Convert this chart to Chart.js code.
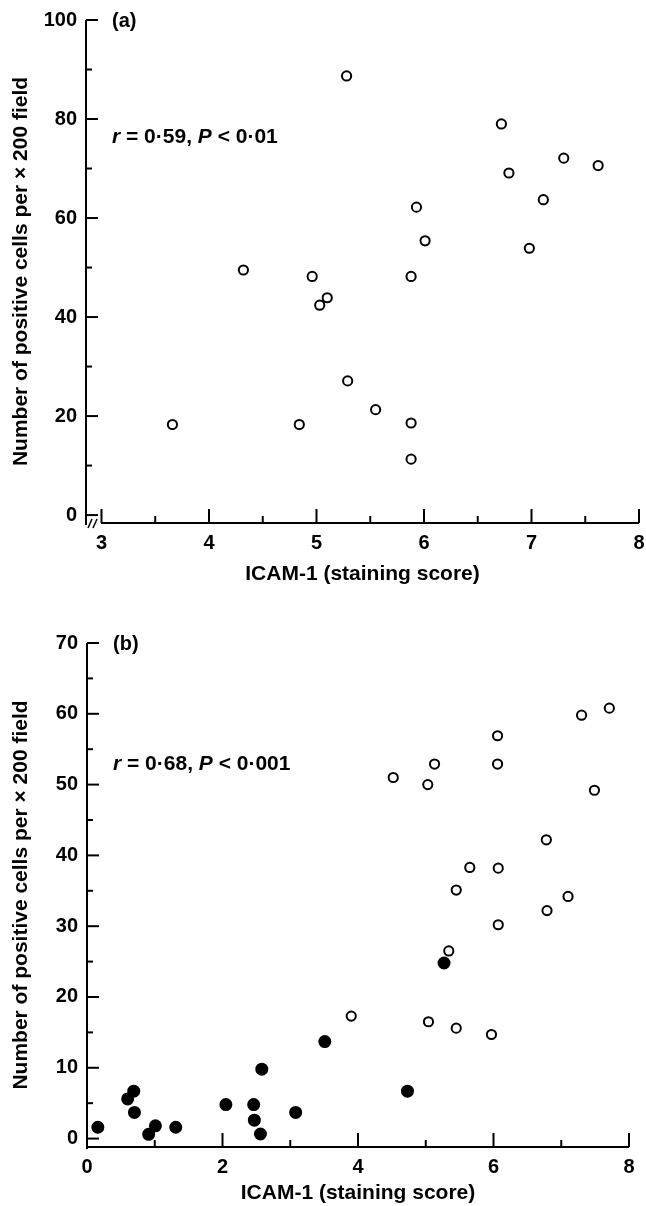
<!DOCTYPE html>
<html>
<head>
<meta charset="utf-8">
<script src="https://cdn.jsdelivr.net/npm/chart.js@4"></script>
<style>
  html, body { margin: 0; padding: 0; background: #fff; }
  #wrap { position: relative; width: 646px; height: 1206px; }
  .panel { position: absolute; left: 0; width: 646px; }
</style>
</head>
<body>
<div id="wrap">
  <div class="panel" style="top:0;height:595px"><canvas id="chartA"></canvas></div>
  <div class="panel" style="top:600px;height:606px"><canvas id="chartB"></canvas></div>
</div>
<script>
// panel (a): ICAM-1 score vs positive cells
var scoreA = [5.28, 6.72, 7.30, 7.62, 6.79, 7.11, 5.93, 6.01, 6.98, 4.32, 4.96, 5.88, 5.10, 5.03, 5.29, 5.55, 3.66, 4.84, 5.88, 5.88];
var cellsA = [88.7, 79.0, 72.1, 70.6, 69.1, 63.7, 62.2, 55.4, 53.9, 49.5, 48.2, 48.2, 43.9, 42.4, 27.1, 21.3, 18.3, 18.3, 18.6, 11.3];

// panel (b): open circles
var scoreOpenB = [7.71, 7.30, 6.06, 5.13, 6.06, 4.52, 5.03, 7.49, 6.78, 5.65, 6.07, 5.45, 7.10, 6.79, 6.07, 5.34, 3.90, 5.04, 5.45, 5.97];
var cellsOpenB = [60.8, 59.8, 56.9, 52.9, 52.9, 51.0, 50.0, 49.2, 42.2, 38.3, 38.2, 35.1, 34.2, 32.2, 30.2, 26.5, 17.3, 16.5, 15.6, 14.7];
// panel (b): filled circles
var scoreFilledB = [5.27, 3.51, 2.58, 4.73, 0.69, 0.60, 0.70, 2.05, 2.46, 3.08, 2.47, 0.16, 1.01, 1.31, 0.91, 2.56];
var cellsFilledB = [24.8, 13.7, 9.8, 6.7, 6.7, 5.6, 3.7, 4.8, 4.8, 3.7, 2.6, 1.6, 1.8, 1.6, 0.6, 0.65];

// tick labels
var xLabelsA = [3, 4, 5, 6, 7, 8];
var yLabelsA = [0, 20, 40, 60, 80, 100];
var xLabelsB = [0, 2, 4, 6, 8];
var yLabelsB = [0, 10, 20, 30, 40, 50, 60, 70];

var FONT = '"Liberation Sans", Arial, sans-serif';
var xTitle = 'ICAM-1 (staining score)';
var yTitle = 'Number of positive cells per \u00d7 200 field';

function toPoints(xs, ys) {
    return xs.map(function (x, i) { return {x: x, y: ys[i]}; });
}

// tick marks and axis lines, drawn from the scales
var axesDraw = {
    id: 'axesDraw',
    beforeDatasetsDraw: function (chart, args, opts) {
        var ctx = chart.ctx;
        var xs = chart.scales.x, ys = chart.scales.y;
        var area = chart.chartArea;
        ctx.save();
        ctx.strokeStyle = '#000';
        ctx.lineWidth = 2;
        ctx.lineCap = 'butt';
        // y axis
        ctx.beginPath();
        ctx.moveTo(area.left, area.top);
        ctx.lineTo(area.left, area.bottom + 2);
        ctx.stroke();
        // x axis
        ctx.beginPath();
        ctx.moveTo(area.left + (opts.xBreak ? 15 : 0), area.bottom);
        ctx.lineTo(area.right, area.bottom);
        ctx.stroke();
        if (opts.xBreak) {
            ctx.lineWidth = 1.5;
            [4, 9].forEach(function (dx) {
                ctx.beginPath();
                ctx.moveTo(area.left + dx - 2, area.bottom + 5);
                ctx.lineTo(area.left + dx + 2, area.bottom - 4);
                ctx.stroke();
            });
            ctx.lineWidth = 2;
        }
        xs.ticks.forEach(function (t) {
            var px = xs.getPixelForValue(t.value);
            var len = opts.xLabels.indexOf(t.value) >= 0 ? 14 : 7;
            ctx.beginPath();
            ctx.moveTo(px, area.bottom);
            ctx.lineTo(px, area.bottom - len);
            ctx.stroke();
        });
        ys.ticks.forEach(function (t) {
            var py = ys.getPixelForValue(t.value);
            var len = opts.yLabels.indexOf(t.value) >= 0 ? 12 : 6;
            ctx.beginPath();
            ctx.moveTo(area.left, py);
            ctx.lineTo(area.left + len, py);
            ctx.stroke();
        });
        ctx.restore();
    }
};

// panel letter and correlation text
var panelText = {
    id: 'panelText',
    afterDraw: function (chart, args, opts) {
        var ctx = chart.ctx;
        var area = chart.chartArea;
        var left = area.left + 26;
        ctx.save();
        ctx.fillStyle = '#000';
        ctx.textBaseline = 'middle';
        ctx.font = 'bold 20px ' + FONT;
        ctx.fillText(opts.letter, left, area.top + 1);
        var y = chart.scales.y.getPixelForValue(opts.statY);
        var x = left;
        opts.parts.forEach(function (p) {
            ctx.font = (p[1] ? 'italic ' : '') + 'bold 21px ' + FONT;
            ctx.fillText(p[0], x, y);
            x += ctx.measureText(p[0]).width;
        });
        ctx.restore();
    }
};

function makeScales(cfg) {
    var tickFont = {family: FONT, size: 20, weight: 'bold'};
    var titleFont = {family: FONT, size: 21, weight: 'bold'};
    return {
        x: {
            type: 'linear', min: cfg.xMin, max: cfg.xMax,
            grid: {display: false, drawTicks: false},
            border: {display: false},
            ticks: {
                stepSize: cfg.xStep, includeBounds: false, autoSkip: false, maxRotation: 0,
                padding: 8, color: '#000', font: tickFont,
                callback: function (v) { return cfg.xLabels.indexOf(v) >= 0 ? String(v) : ''; }
            },
            title: {display: true, text: xTitle, color: '#000', font: titleFont, padding: {top: 0, bottom: cfg.xTitlePad}},
            afterFit: function (s) {
                s.height = cfg.xHeight;
                s.paddingLeft = 0;
                s.paddingRight = 0;
            }
        },
        y: {
            type: 'linear', min: cfg.yMin, max: cfg.yMax,
            grid: {display: false, drawTicks: false},
            border: {display: false},
            ticks: {
                stepSize: cfg.yStep, includeBounds: false, autoSkip: false,
                padding: 9, color: '#000', font: tickFont,
                callback: function (v) { return cfg.yLabels.indexOf(v) >= 0 ? String(v) : ''; }
            },
            title: {display: true, text: yTitle, color: '#000', font: titleFont, padding: {top: 9, bottom: 0}},
            afterFit: function (s) {
                s.width = cfg.yWidth;
                s.paddingTop = 0;
                s.paddingBottom = 0;
            }
        }
    };
}

var pointBase = {showLine: false, borderColor: '#000', pointBorderWidth: 2, pointHoverRadius: 5};

new Chart(document.getElementById('chartA'), {
    type: 'scatter',
    data: {
        datasets: [Object.assign({
            label: 'a', data: toPoints(scoreA, cellsA),
            pointRadius: 4.6, backgroundColor: '#fff', pointBackgroundColor: '#fff'
        }, pointBase)]
    },
    options: {
        responsive: true, maintainAspectRatio: false, animation: false, devicePixelRatio: 1,
        layout: {padding: {top: 20, right: 6, left: 0, bottom: 0}},
        plugins: {
            legend: {display: false}, tooltip: {enabled: false},
            axesDraw: {xLabels: xLabelsA, yLabels: yLabelsA, xBreak: true},
            panelText: {letter: '(a)', statY: 76.3, parts: [['r', true], [' = 0\u00b759, ', false], ['P', true], [' < 0\u00b701', false]]}
        },
        scales: makeScales({
            xMin: 2.856, xMax: 8, xStep: 0.5, xLabels: xLabelsA, xHeight: 72, xTitlePad: 8,
            yMin: -1.6, yMax: 100, yStep: 10, yLabels: yLabelsA, yWidth: 86
        })
    },
    plugins: [axesDraw, panelText]
});

new Chart(document.getElementById('chartB'), {
    type: 'scatter',
    data: {
        datasets: [
            Object.assign({
                label: 'open', data: toPoints(scoreOpenB, cellsOpenB),
                pointRadius: 4.6, backgroundColor: '#fff', pointBackgroundColor: '#fff'
            }, pointBase),
            Object.assign({
                label: 'filled', data: toPoints(scoreFilledB, cellsFilledB),
                pointRadius: 5.5, backgroundColor: '#000', pointBackgroundColor: '#000'
            }, pointBase)
        ]
    },
    options: {
        responsive: true, maintainAspectRatio: false, animation: false, devicePixelRatio: 1,
        layout: {padding: {top: 43, right: 17, left: 0, bottom: 0}},
        plugins: {
            legend: {display: false}, tooltip: {enabled: false},
            axesDraw: {xLabels: xLabelsB, yLabels: yLabelsB, xBreak: false},
            panelText: {letter: '(b)', statY: 52.9, parts: [['r', true], [' = 0\u00b768, ', false], ['P', true], [' < 0\u00b7001', false]]}
        },
        scales: makeScales({
            xMin: 0, xMax: 8, xStep: 1, xLabels: xLabelsB, xHeight: 59, xTitlePad: 0,
            yMin: -1.19, yMax: 70, yStep: 5, yLabels: yLabelsB, yWidth: 87
        })
    },
    plugins: [axesDraw, panelText]
});
</script>
</body>
</html>
